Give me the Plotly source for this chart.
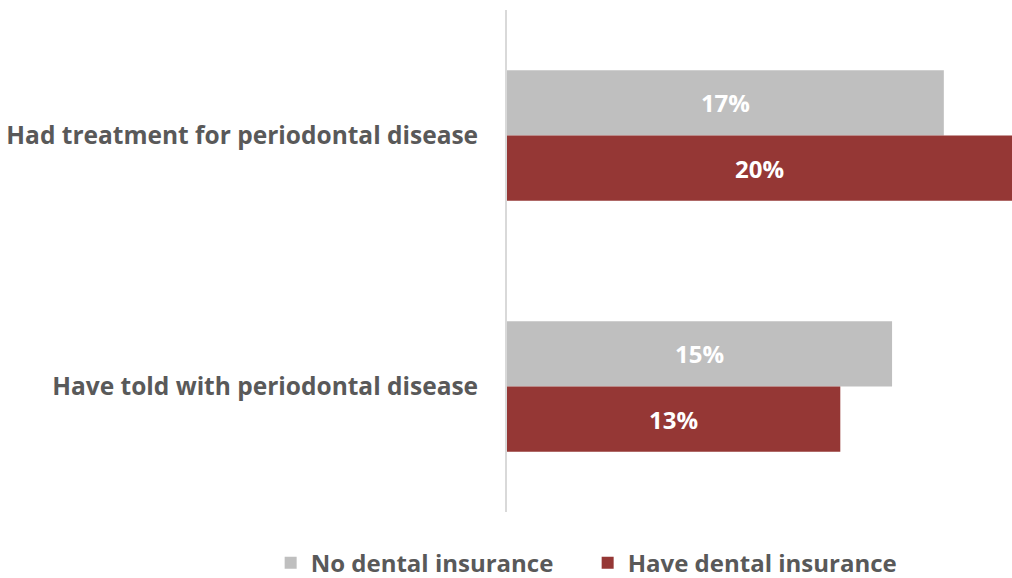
import plotly.graph_objects as go

categories = ["Had treatment for periodontal disease", "Have told with periodontal disease"]
no_insurance = [17.3, 15.25]
have_insurance = [20.0, 13.2]
no_labels = ["17%", "15%"]
have_labels = ["20%", "13%"]

FONT = "Open Sans"
TXT = "#595959"

fig = go.Figure()
fig.add_trace(go.Bar(
    y=categories, x=no_insurance, orientation="h", name="No dental insurance",
    marker=dict(color="#bfbfbf", line=dict(width=0)),
    text=no_labels, textposition="inside", insidetextanchor="middle",
    textfont=dict(family=FONT, size=24, color="white", weight="bold"),
))
fig.add_trace(go.Bar(
    y=categories, x=have_insurance, orientation="h", name="Have dental insurance",
    marker=dict(color="#953735", line=dict(width=0)),
    text=have_labels, textposition="inside", insidetextanchor="middle",
    textfont=dict(family=FONT, size=24, color="white", weight="bold"),
))

fig.update_layout(
    width=1012, height=578,
    margin=dict(l=507, r=0, t=10, b=66, autoexpand=False),
    paper_bgcolor="white", plot_bgcolor="white",
    barmode="group", bargap=0.48, bargroupgap=0,
    font=dict(family=FONT, color=TXT),
    showlegend=True,
    legend=dict(orientation="h", x=-0.468, xanchor="left", y=-0.057, yanchor="top",
                font=dict(family=FONT, size=24, color=TXT, weight="bold"),
                itemwidth=30, traceorder="normal",
                entrywidth=272, entrywidthmode="pixels"),
    uniformtext=dict(mode=False),
)
fig.update_xaxes(range=[0, 20], visible=False, showgrid=False, zeroline=False)
fig.update_yaxes(autorange="reversed", showline=True, linecolor="#d9d9d9", linewidth=2,
                 showgrid=False, zeroline=False, ticks="", ticklabelstandoff=22,
                 tickfont=dict(family=FONT, size=24.5, color=TXT, weight="bold"))

fig.write_html("out.html")
